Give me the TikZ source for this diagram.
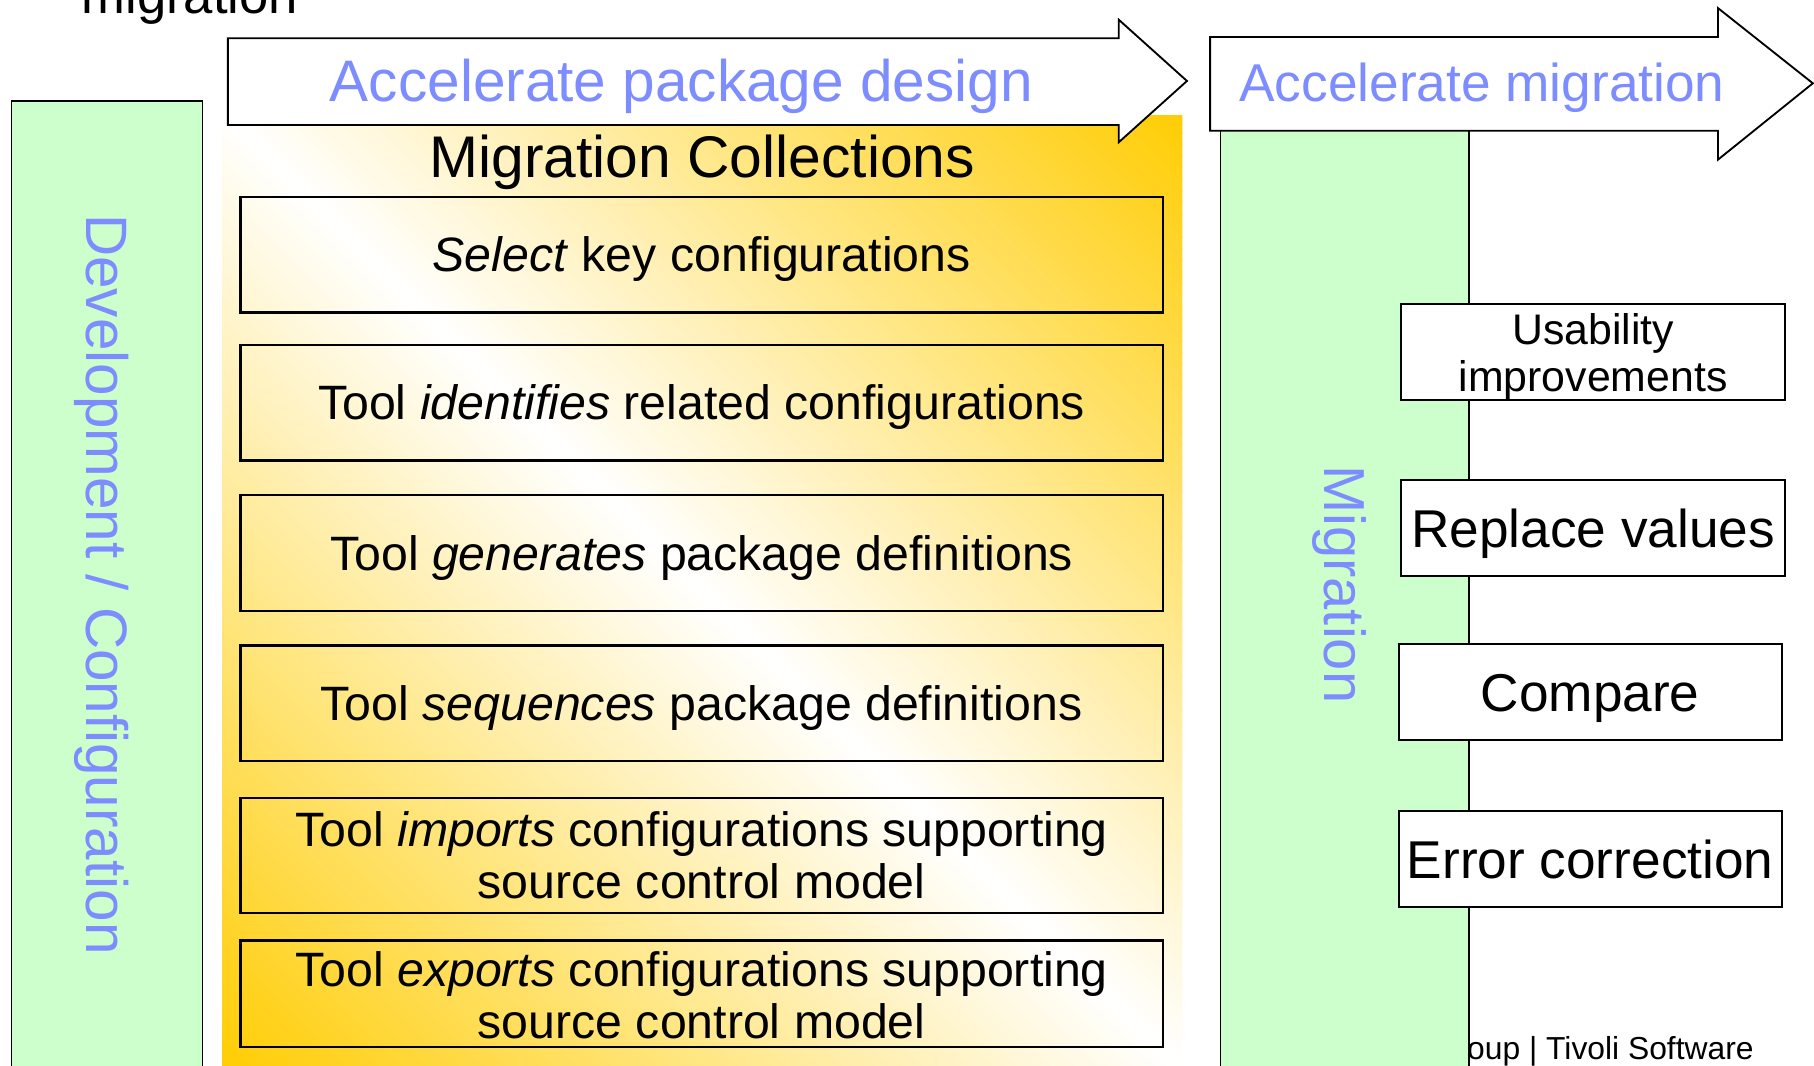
\documentclass[tikz,border=0pt]{standalone}
\usepackage{fontspec}
\setmainfont{Liberation Sans}
\definecolor{lanegreen}{RGB}{204,255,204}
\definecolor{accblue}{RGB}{125,140,255}
\definecolor{gold}{RGB}{255,205,5}
\tikzset{
  lane/.style={draw=black, fill=lanegreen, line width=1.6pt},
  arrowshape/.style={draw=black, fill=white, line width=1.6pt, line join=miter},
  cbox/.style={draw=black, line width=2pt, minimum width=797pt, inner sep=0pt, align=center,
               font=\fontsize{41.7}{45}\selectfont},
  rbox/.style={draw=black, fill=white, line width=1.8pt, minimum height=83pt, inner sep=0pt,
               align=center, font=\fontsize{46}{50}\selectfont},
  cone/.style={text height=37.5pt, text depth=8pt},
  rone/.style={text height=41pt, text depth=8pt},
  bluetxt/.style={text=accblue, inner sep=0pt},
  plaintxt/.style={text=black, inner sep=0pt}
}
\begin{document}
\begin{tikzpicture}[x=1pt,y=-1pt]
\useasboundingbox (0,0) rectangle (1568,921);

% left lane
\draw[lane] (10,87) rectangle (175,940);
\node[bluetxt, rotate=-90, anchor=base west, font=\fontsize{50.5}{60}\selectfont] (devcfg) at (75,185) {Development / Configuration};

% gradient background
\begin{scope}
  \clip (192,100) rectangle (1022,921);
  \foreach \i in {-84,...,83} {
    \pgfmathsetmacro{\pa}{\i*10}
    \pgfmathsetmacro{\pb}{\pa+11}
    \pgfmathsetmacro{\pc}{min(100,abs(\pa+5)/825.5*100)}
    \fill[gold!\pc!white] ({\pa+96.5-150},-150) -- ({\pa+96.5+1150},1150) -- ({\pb+96.5+1150},1150) -- ({\pb+96.5-150},-150) -- cycle;
  }
\end{scope}

% arrow 1
\draw[arrowshape] (197,33) -- (967,33) -- (967,17) -- (1026,70) -- (967,123) -- (967,108) -- (197,108) -- cycle;
\node[bluetxt, anchor=base, font=\fontsize{50.6}{60}\selectfont] (acc1) at (589,88) {Accelerate package design};

\node[plaintxt, anchor=base, font=\fontsize{50.8}{60}\selectfont] (mc) at (607,153) {Migration Collections};

\node[cbox, cone, minimum height=100pt] (b1) at (606.5,220) {\textit{Select} key configurations};
\node[cbox, cone, minimum height=100pt] (b2) at (606.5,348) {Tool \textit{identifies} related configurations};
\node[cbox, cone, minimum height=100pt] (b3) at (606.5,478) {Tool \textit{generates} package definitions};
\node[cbox, cone, minimum height=100pt] (b4) at (606.5,608) {Tool \textit{sequences} package definitions};
\node[cbox, minimum height=99pt] (b5) at (606.5,739.5) {Tool \textit{imports} configurations supporting\\source control model};
\node[cbox, minimum height=92pt] (b6) at (606.5,859) {\rule{0pt}{33.5pt}Tool \textit{exports} configurations supporting\\source control model};

% footer
\node[plaintxt, anchor=base east, font=\fontsize{27.5}{32}\selectfont] (footer) at (1516,916) {oup | Tivoli Software};

% migration lane
\draw[lane] (1055,105) rectangle (1270,940);
\node[bluetxt, rotate=-90, anchor=base west, font=\fontsize{50}{60}\selectfont] (mig) at (1145,402) {Migration};

% arrow 2
\draw[arrowshape] (1046,32) -- (1485,32) -- (1485,7) -- (1567,72) -- (1485,138) -- (1485,113) -- (1046,113) -- cycle;
\node[bluetxt, anchor=base, font=\fontsize{46}{55}\selectfont] (acc2) at (1281,88) {Accelerate migration};

% right boxes
\node[rbox, minimum width=332pt, font=\fontsize{37}{40}\selectfont] (r1) at (1377,304.5) {\rule{0pt}{35pt}Usability\\improvements};
\node[rbox, rone, minimum width=332pt] (r2) at (1377,456.5) {Replace values};
\node[rbox, rone, minimum width=331pt] (r3) at (1374.5,598.5) {Compare};
\node[rbox, rone, minimum width=331pt] (r4) at (1374.5,742.5) {Error correction};

% top-left cut-off title
\node[plaintxt, anchor=base, font=\fontsize{45.5}{55}\selectfont] (toptitle) at (164,11.5) {migration};
\end{tikzpicture}
\end{document}
